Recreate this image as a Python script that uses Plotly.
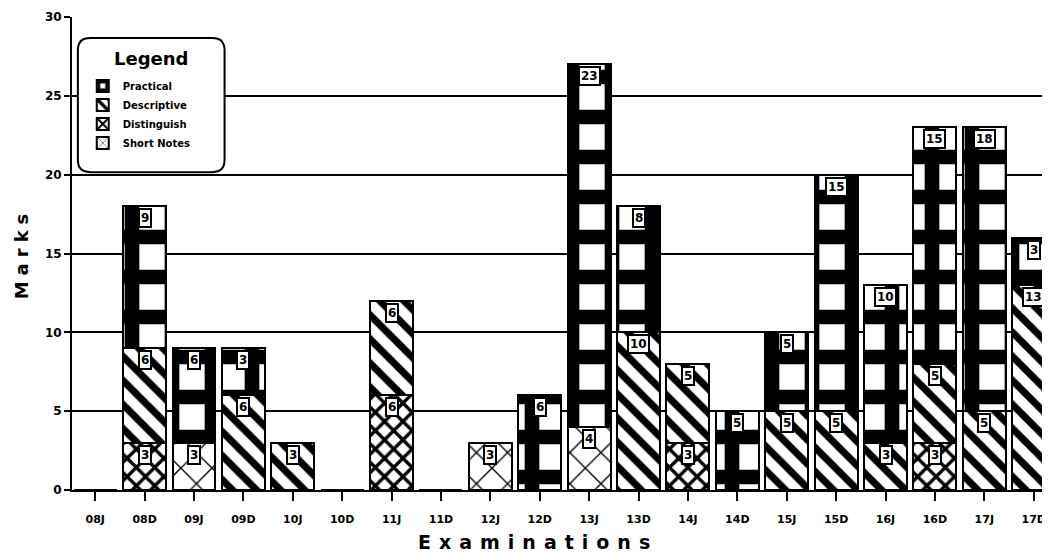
import plotly.graph_objects as go

categories = ["08J", "08D", "09J", "09D", "10J", "10D", "11J", "11D", "12J", "12D",
              "13J", "13D", "14J", "14D", "15J", "15D", "16J", "16D", "17J", "17D"]
short_notes = [0, 0, 3, 0, 0, 0, 0, 0, 3, 0, 4, 0, 0, 0, 0, 0, 0, 0, 0, 0]
distinguish = [0, 3, 0, 0, 0, 0, 6, 0, 0, 0, 0, 0, 3, 0, 0, 0, 0, 3, 0, 0]
descriptive = [0, 6, 0, 6, 3, 0, 6, 0, 0, 0, 0, 10, 5, 0, 5, 5, 3, 5, 5, 13]
practical = [0, 9, 6, 3, 0, 0, 0, 0, 0, 6, 23, 8, 0, 5, 5, 15, 10, 15, 18, 3]
y_ticks = [0, 5, 10, 15, 20, 25, 30]

FONT = "DejaVu Sans"

series = [
    ("Short Notes", short_notes, dict(shape="x", size=22, solidity=0.12)),
    ("Distinguish", distinguish, dict(shape="x", size=13, solidity=0.45)),
    ("Descriptive", descriptive, dict(shape="\\", size=17, solidity=0.42)),
    ("Practical", practical, dict(shape="+", size=40, solidity=0.6)),
]

fig = go.Figure()
for name, vals, pat in series:
    fig.add_trace(go.Bar(
        x=categories, y=vals, name=name,
        marker=dict(color="white",
                    line=dict(color="black", width=2),
                    pattern=dict(fgcolor="black", bgcolor="white", fgopacity=1,
                                 fillmode="overlay", **pat)),
    ))

# value labels (white boxes at top of each segment)
cum = [0] * len(categories)
for name, vals, pat in series:
    for i, v in enumerate(vals):
        if v > 0:
            cum[i] += v
            fig.add_annotation(
                x=categories[i], y=cum[i], text=str(v),
                xref="x", yref="y", yanchor="top", yshift=-2,
                showarrow=False, bgcolor="white", bordercolor="black",
                borderwidth=2, borderpad=1,
                font=dict(family=FONT, size=12, color="black", weight="bold"),
            )

# rounded legend frame
x0, x1, y0, y1 = 0.006, 0.156, 0.672, 0.9556
rx, ry = 0.0125, 0.026
path = (f"M {x0+rx},{y1} L {x1-rx},{y1} Q {x1},{y1} {x1},{y1-ry} "
        f"L {x1},{y0+ry} Q {x1},{y0} {x1-rx},{y0} L {x0+rx},{y0} "
        f"Q {x0},{y0} {x0},{y0+ry} L {x0},{y1-ry} Q {x0},{y1} {x0+rx},{y1} Z")
fig.add_shape(type="path", path=path, xref="paper", yref="paper",
              fillcolor="white", line=dict(color="black", width=2), layer="above")

# legend heading
fig.add_annotation(x=0.081, y=0.913, xref="paper", yref="paper",
                   text="Legend", showarrow=False, xanchor="center", yanchor="middle",
                   font=dict(family=FONT, size=18, color="black", weight="bold"))

# x-axis title
fig.add_annotation(x=0.4765, y=-0.11, xref="paper", yref="paper",
                   text='<span style="letter-spacing:8px">Examinations</span>',
                   showarrow=False, xanchor="center", yanchor="middle",
                   font=dict(family=FONT, size=19, color="black", weight="bold"))

# the page body adds an 8px offset, so the figure is 8px smaller and shifted
fig.update_layout(
    width=1042, height=547,
    margin=dict(l=64, r=0, t=9, b=65),
    paper_bgcolor="white", plot_bgcolor="white",
    barmode="stack", bargap=0.13,
    showlegend=True,
    legend=dict(
        x=0.011, y=0.885, xanchor="left", yanchor="top",
        bgcolor="rgba(0,0,0,0)", borderwidth=0,
        traceorder="reversed",
        font=dict(family=FONT, size=10, color="black", weight="bold"),
        tracegroupgap=0,
    ),
    xaxis=dict(
        range=[-0.47, 19.33], showline=True, linecolor="black", linewidth=2,
        ticks="outside", ticklen=9, tickwidth=1.5, tickcolor="black",
        ticklabelstandoff=9,
        showgrid=False, zeroline=False, automargin=False,
        tickfont=dict(family=FONT, size=11, color="black", weight="bold"),
    ),
    yaxis=dict(
        range=[0, 30], tickvals=y_ticks, showline=True, linecolor="black", linewidth=2,
        ticks="outside", ticklen=6, tickwidth=2, tickcolor="black",
        showgrid=True, gridcolor="black", gridwidth=2, zeroline=False, automargin=False,
        tickfont=dict(family=FONT, size=12, color="black", weight="bold"),
        title=dict(text='<span style="letter-spacing:6px">Marks</span>', standoff=12,
                   font=dict(family=FONT, size=18, color="black", weight="bold")),
    ),
)

fig.write_html("out.html")
